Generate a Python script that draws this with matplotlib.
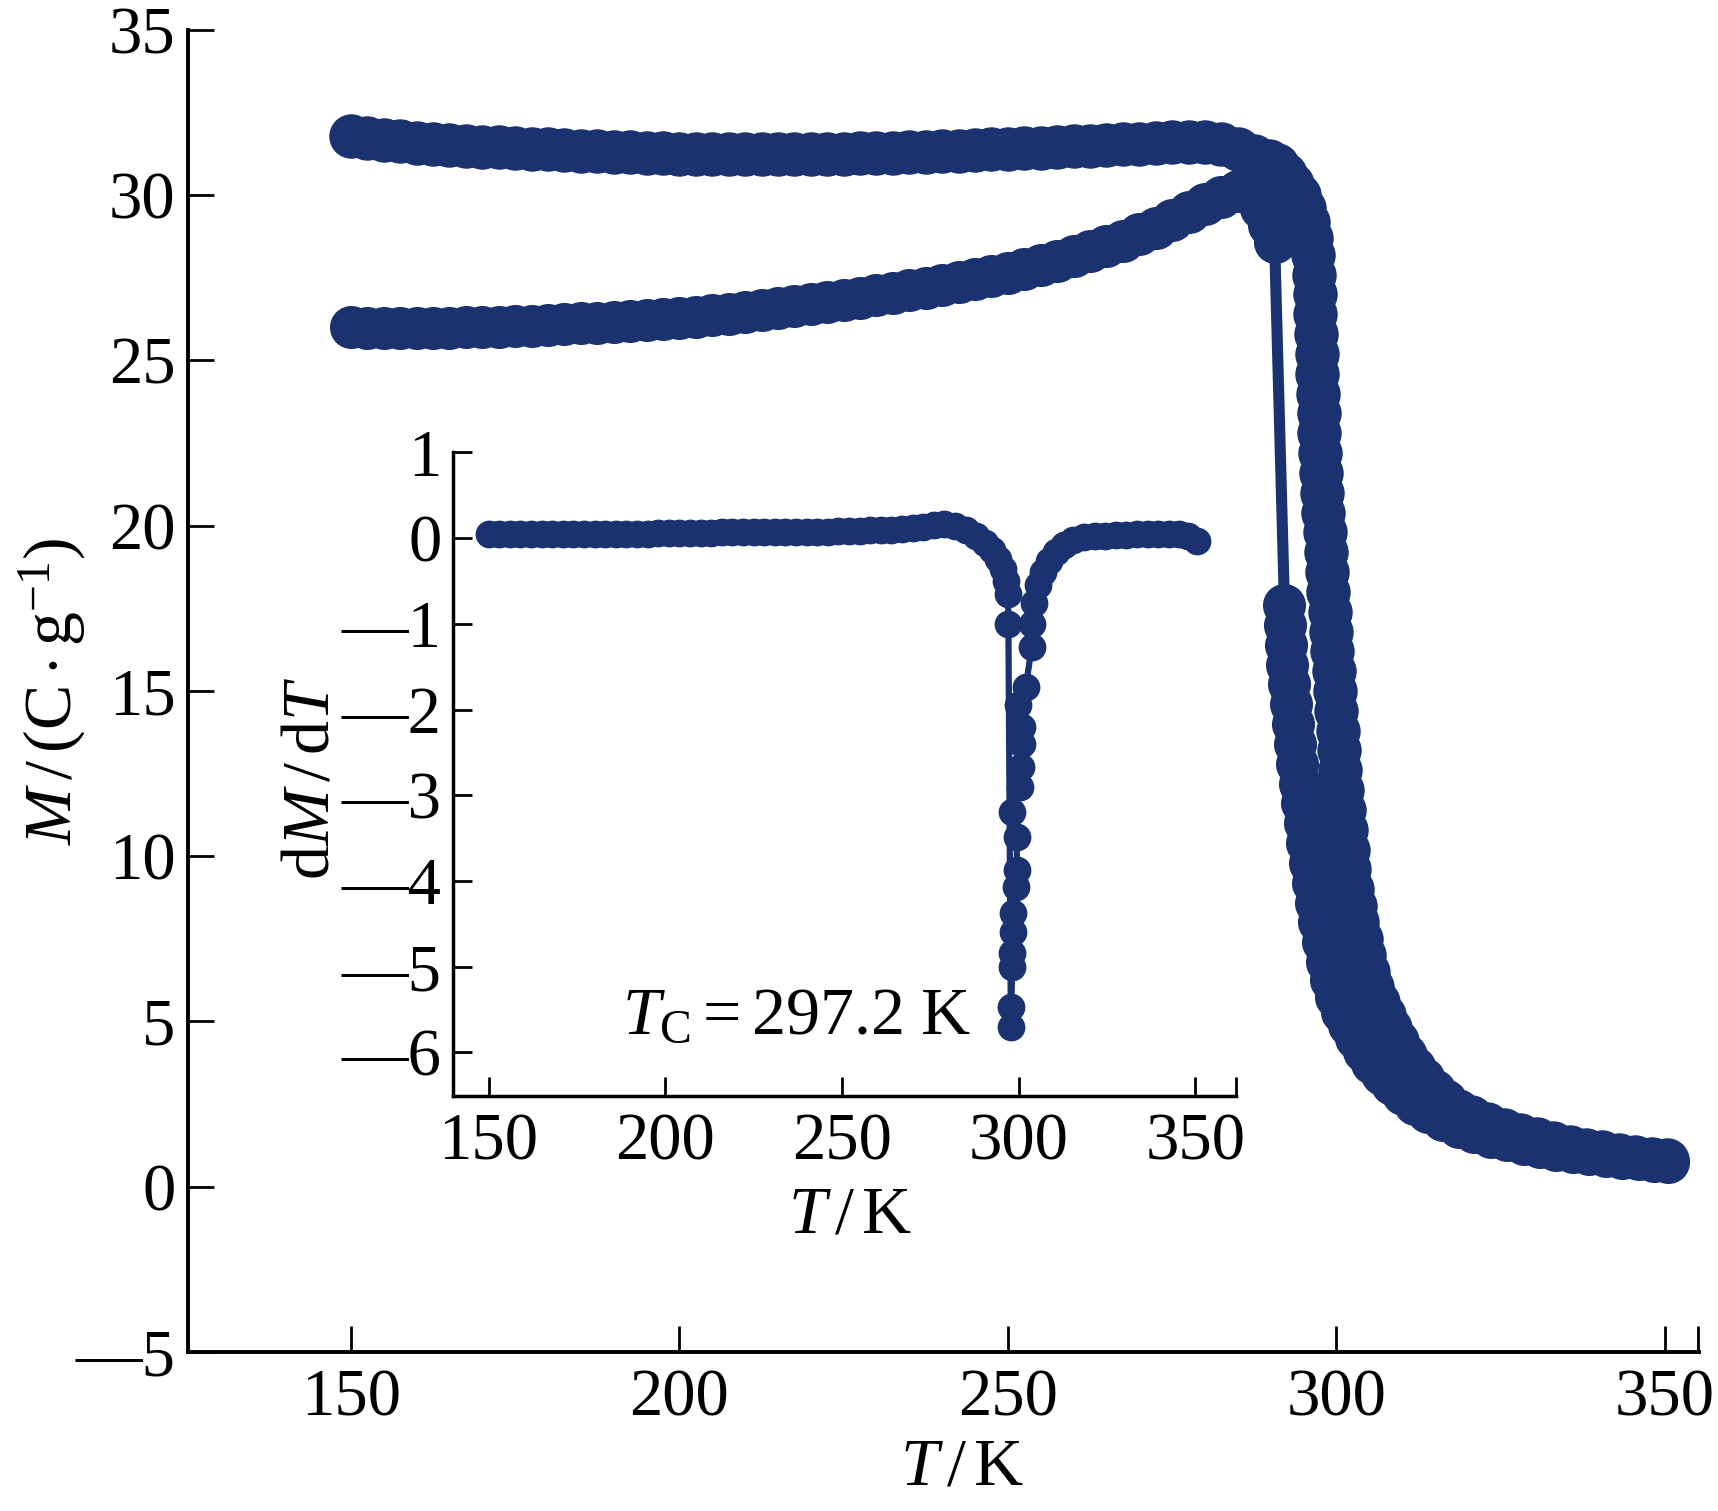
import matplotlib
matplotlib.use("Agg")
import matplotlib.pyplot as plt
from matplotlib.ticker import FixedLocator

plt.rcParams['font.family'] = ['Liberation Serif', 'DejaVu Serif']
plt.rcParams['mathtext.fontset'] = 'custom'
plt.rcParams['mathtext.rm'] = 'Liberation Serif'
plt.rcParams['mathtext.it'] = 'Liberation Serif:italic'
plt.rcParams['mathtext.bf'] = 'Liberation Serif:bold'

# ---------------- data: main panel (M vs T) ----------------
T_up = [150, 152.5, 155, 157.5, 160, 162.5, 165, 167.5, 170, 172.5, 175, 177.5, 180,
        182.5, 185, 187.5, 190, 192.5, 195, 197.5, 200, 202.5, 205, 207.5, 210, 212.5,
        215, 217.5, 220, 222.5, 225, 227.5, 230, 232.5, 235, 237.5, 240, 242.5, 245,
        247.5, 250, 252.5, 255, 257.5, 260, 262.5, 265, 267.5, 270, 272.5, 275, 277.5,
        280, 282.5, 285, 287.5, 289.7, 291, 292.2, 293.3, 294.3, 295.1, 295.7, 296.1,
        296.4, 296.6, 296.7, 296.8, 296.9, 297.0, 297.1, 297.2, 297.3, 297.4, 297.5,
        297.7, 297.8, 298.0, 298.2, 298.4, 298.6, 298.8, 299.0, 299.2, 299.4, 299.6,
        299.8, 300.0, 300.2, 300.4, 300.6, 300.9, 301.1, 301.4, 301.7, 302.0, 302.4,
        302.8, 303.2, 303.7, 304.2, 304.8, 305.5, 306.3, 307.2, 308.2, 309.3, 310.5,
        311.8, 313.2, 314.8, 316.5, 318.5, 320.5, 323, 325.5, 328, 330.5, 333, 335.5,
        338, 340.5, 343, 345.5, 348, 350.3]
M_up = [31.80, 31.74, 31.68, 31.63, 31.59, 31.55, 31.52, 31.49, 31.47, 31.45, 31.43, 31.41,
        31.39, 31.37, 31.35, 31.33, 31.31, 31.30, 31.28, 31.27, 31.26, 31.25, 31.25, 31.24,
        31.24, 31.24, 31.24, 31.24, 31.25, 31.25, 31.26, 31.27, 31.27, 31.28, 31.30, 31.31,
        31.33, 31.35, 31.37, 31.39, 31.41, 31.42, 31.44, 31.46, 31.48, 31.50, 31.52, 31.54,
        31.56, 31.58, 31.60, 31.62, 31.62, 31.56, 31.40, 31.20, 31.05, 30.9, 30.65, 30.35,
        30.0, 29.6, 29.2, 28.7, 28.2, 27.6, 27.0, 26.4, 25.8, 25.2, 24.6, 24.0, 23.4, 22.8,
        22.2, 21.6, 21.0, 20.4, 19.8, 19.2, 18.6, 18.0, 17.4, 16.8, 16.2, 15.6, 15.0, 14.4,
        13.8, 13.2, 12.6, 12.0, 11.4, 10.8, 10.2, 9.6, 9.0, 8.5, 8.0, 7.5, 7.0, 6.5, 6.05,
        5.6, 5.2, 4.8, 4.4, 4.0, 3.6, 3.25, 2.9, 2.6, 2.3, 2.1, 1.9, 1.72, 1.56, 1.43, 1.32,
        1.21, 1.12, 1.04, 0.97, 0.91, 0.85, 0.80]

T_low = [150, 152.5, 155, 157.5, 160, 162.5, 165, 167.5, 170, 172.5, 175, 177.5, 180,
         182.5, 185, 187.5, 190, 192.5, 195, 197.5, 200, 202.5, 205, 207.5, 210, 212.5,
         215, 217.5, 220, 222.5, 225, 227.5, 230, 232.5, 235, 237.5, 240, 242.5, 245,
         247.5, 250, 252.5, 255, 257.5, 260, 262.5, 265, 267.5, 270, 272.5, 275, 277.5,
         280, 282.5, 285, 287, 288.5, 289.7, 290.6, 292.1, 292.2, 292.3, 292.5, 292.8,
         293.1, 293.4, 293.7, 294.0, 294.4, 294.8, 295.2, 295.6, 296.0, 296.4, 296.9,
         297.4, 297.9, 298.5, 299.2, 300.0, 300.9, 301.9, 303.0, 304.2, 305.5, 306.9,
         308.5, 310.2, 312, 314, 316.2, 318.6, 321, 323.5, 326, 328.5, 331, 333.5, 336,
         338.5, 341, 343.5, 346, 348.3, 350.5]
M_low = [26.00, 25.98, 25.97, 25.97, 25.97, 25.98, 25.99, 26.00, 26.01, 26.02, 26.03, 26.05,
         26.07, 26.09, 26.12, 26.14, 26.17, 26.20, 26.23, 26.26, 26.29, 26.33, 26.37, 26.42,
         26.47, 26.52, 26.58, 26.64, 26.70, 26.76, 26.83, 26.90, 26.97, 27.04, 27.12, 27.20,
         27.28, 27.37, 27.46, 27.55, 27.65, 27.76, 27.88, 28.01, 28.15, 28.30, 28.46, 28.63,
         28.82, 29.02, 29.25, 29.48, 29.72, 29.95, 30.12, 30.05, 29.6, 29.1, 28.6, 17.6,
         17.0, 16.4, 15.8, 15.2, 14.6, 14.0, 13.4, 12.8, 12.2, 11.6, 11.0, 10.4, 9.8, 9.2,
         8.6, 8.0, 7.4, 6.8, 6.25, 5.75, 5.3, 4.9, 4.5, 4.1, 3.75, 3.4, 3.1, 2.8, 2.5, 2.25,
         2.02, 1.82, 1.66, 1.52, 1.4, 1.29, 1.2, 1.12, 1.05, 0.99, 0.93, 0.88, 0.83, 0.79,
         0.75]

# ---------------- data: inset (dM/dT vs T) ----------------
T_in = [150, 153, 156, 159, 162, 165, 168, 171, 174, 177, 180, 183, 186, 189, 192, 195,
        198, 201, 204, 207, 210, 213, 216, 219, 222, 225, 228, 231, 234, 237, 240, 243,
        246, 249, 252, 255, 258, 261, 264, 267, 270, 273, 276, 279, 282, 285, 288,
        290.5, 292.5, 294.2, 295.5, 296.5, 297.0, 297.1, 297.8, 297.9, 298.2, 298.2,
        298.3, 298.5, 299.2, 299.5, 299.5, 298.2, 300.4, 300.6, 301.0, 301.0, 299.7,
        302.0, 303.7, 303.9, 304.4, 305.4, 306.8, 308.5, 310.5, 312.8, 315.5, 318.5,
        321.5, 324.5, 327.5, 330.5, 333.5, 336.5, 339.5, 342.5, 345.5, 348.0, 350.5]
dMdT_in = [0.05, 0.05, 0.05, 0.05, 0.05, 0.05, 0.05, 0.05, 0.05, 0.05, 0.05, 0.05, 0.05,
           0.05, 0.05, 0.05, 0.06, 0.06, 0.06, 0.06, 0.06, 0.06, 0.07, 0.07, 0.07, 0.07,
           0.07, 0.07, 0.07, 0.07, 0.07, 0.07, 0.07, 0.08, 0.08, 0.08, 0.09, 0.09, 0.10,
           0.11, 0.12, 0.13, 0.15, 0.16, 0.14, 0.10, 0.03,
           -0.06, -0.14, -0.24, -0.36, -0.5, -0.65, -1.0, -5.7, -5.47, -5.0, -4.84,
           -4.6, -4.38, -4.07, -3.87, -3.49, -3.2, -2.9, -2.67, -2.4, -2.2, -1.95,
           -1.74, -1.27, -1.0, -0.76, -0.55, -0.4, -0.27, -0.16, -0.08, -0.02, 0.01,
           0.02, 0.03, 0.04, 0.04, 0.05, 0.05, 0.05, 0.05, 0.05, 0.03, -0.03]

# ---------------- ticks ----------------
main_xticks = [150, 200, 250, 300, 350]
main_xticklabels = ['150', '200', '250', '300', '350']
main_yticks = [-5, 0, 5, 10, 15, 20, 25, 30, 35]
main_yticklabels = ['\u20145', '0', '5', '10', '15', '20', '25', '30', '35']
in_xticks = [150, 200, 250, 300, 350]
in_xticklabels = ['150', '200', '250', '300', '350']
in_yticks = [-6, -5, -4, -3, -2, -1, 0, 1]
in_yticklabels = ['\u20146', '\u20145', '\u20144', '\u20143', '\u20142', '\u20141', '0', '1']

COLOR = '#1a3270'
FS = 48
LFS = 49

fig = plt.figure(figsize=(17.18, 15.11), dpi=100)

# ---------------- main axes ----------------
ax = fig.add_axes([0.10943, 0.10523, 0.87951, 0.87492])
ax.plot(T_up, M_up, '-o', color=COLOR, ms=32, mew=0, lw=8)
ax.plot(T_low, M_low, '-o', color=COLOR, ms=31, mew=0, lw=8)
ax.set_xlim(125.2, 355.2)
ax.set_ylim(-5, 35)
for s in ['top', 'right']:
    ax.spines[s].set_visible(False)
for s in ['left', 'bottom']:
    ax.spines[s].set_linewidth(2.8)
ax.set_xticks(main_xticks)
ax.set_xticklabels(main_xticklabels)
ax.set_yticks(main_yticks)
ax.set_yticklabels(main_yticklabels)
ax.xaxis.set_minor_locator(FixedLocator([355.1]))
ax.tick_params(which='major', direction='in', length=19, width=2, labelsize=FS)
ax.tick_params(which='minor', direction='in', length=19, width=2)
ax.tick_params(axis='x', pad=12)
ax.tick_params(axis='y', pad=9)
ax.text(0.512, -0.088, r'$T\,/\,\mathrm{K}$', transform=ax.transAxes,
        ha='center', va='center', fontsize=LFS)
ax.text(-0.0896, 0.50, r'$M\,/\,(\mathrm{C}\cdot\mathrm{g}^{-1})$', transform=ax.transAxes,
        ha='center', va='center', rotation=90, fontsize=LFS)

# ---------------- inset ----------------
ai = fig.add_axes([0.26339, 0.27465, 0.45605, 0.42588])
ai.patch.set_alpha(0)
ai.plot(T_in, dMdT_in, '-o', color=COLOR, ms=20, mew=0, lw=4.5)
ai.set_xlim(139.8, 361.5)
ai.set_ylim(-6.51, 1)
for s in ['top', 'right']:
    ai.spines[s].set_visible(False)
for s in ['left', 'bottom']:
    ai.spines[s].set_linewidth(2.5)
ai.set_xticks(in_xticks)
ai.set_xticklabels(in_xticklabels)
ai.set_yticks(in_yticks)
ai.set_yticklabels(in_yticklabels)
ai.xaxis.set_minor_locator(FixedLocator([361.4]))
ai.tick_params(which='major', direction='in', length=14, width=2, labelsize=FS)
ai.tick_params(which='minor', direction='in', length=14, width=2)
ai.tick_params(axis='x', pad=12)
ai.tick_params(axis='y', pad=8)
ai.text(0.507, -0.186, r'$T\,/\,\mathrm{K}$', transform=ai.transAxes,
        ha='center', va='center', fontsize=LFS)
ai.text(-0.179, 0.494, r'$\mathrm{d}M\,/\,\mathrm{d}T$', transform=ai.transAxes,
        ha='center', va='center', rotation=90, fontsize=LFS)
ai.text(286.4, -5.78, r'$T_{\mathrm{C}}{=}297.2\ \mathrm{K}$', ha='right',
        va='baseline', fontsize=LFS)

fig.savefig('out.png', dpi=100)
